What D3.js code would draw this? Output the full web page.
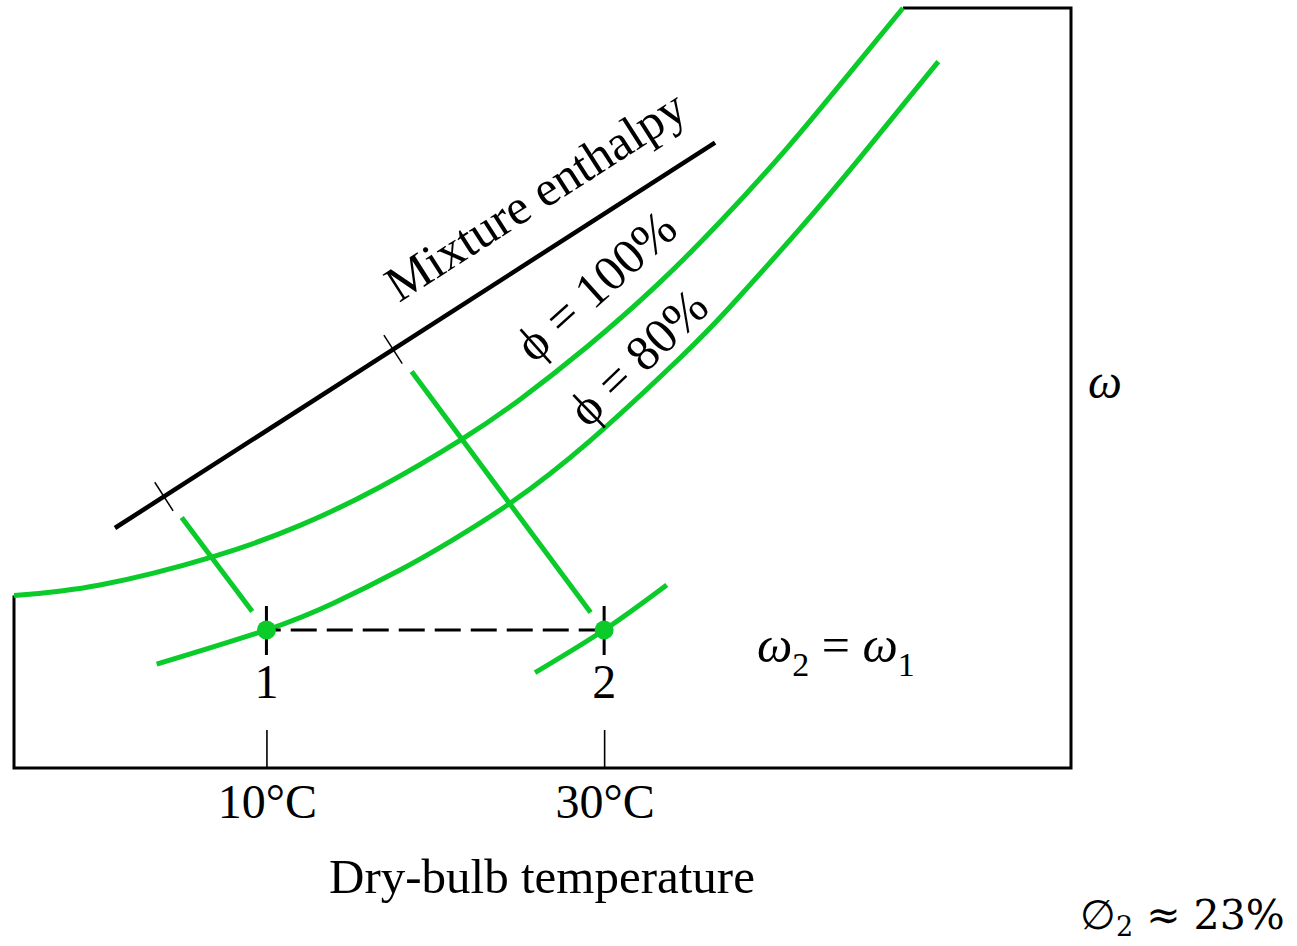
<!DOCTYPE html>
<html><head><meta charset="utf-8">
<script src="https://cdn.jsdelivr.net/npm/d3@7"></script>
<style>body{margin:0;background:#fff}svg{display:block}</style>
</head><body><svg id="c" width="1297" height="946"></svg>
<script>
// ---- data (temperature in °C, humidity ratio ω in arbitrary units) ----
const tempTicks = [10, 30];
const tickLabels = ["10°C", "30°C"];
const stateNames = ["1", "2"];
const stateT = [10, 30];
const stateW = [6.9, 6.9];
const sat100T = [-4.95, 0.14, 6.85, 11.99, 16.73, 21.56, 25.02, 28.97, 33.11, 36.86, 40.81, 44.56, 47.70];
const sat100W = [8.62, 9.15, 10.57, 12.13, 14.05, 16.43, 18.43, 21.05, 24.13, 27.30, 30.97, 34.77, 38.0];
const rh80T = [3.50, 10.0, 13.96, 17.91, 20.87, 24.43, 29.16, 34.49, 37.45, 41.60, 45.15, 49.79];
const rh80W = [5.19, 6.9, 8.24, 9.90, 11.32, 13.24, 16.36, 20.50, 23.05, 26.97, 30.51, 35.32];
const rh2T = [25.91, 30.0, 33.71];
const rh2W = [4.77, 6.9, 9.15];
const enthT = [1.03, 36.57];
const enthW = [12.0, 31.27];
const enthTickT = [3.93, 17.5];
const wetStartT = [4.98, 18.6], wetStartW = [12.52, 19.82];
const wetEndT = [9.16, 29.2], wetEndW = [7.82, 7.77];
const tDomain = [-4.95, 57.65];
const wDomain = [0, 38];

// ---- scales ----
const x = d3.scaleLinear().domain(tDomain).range([14, 1071]);
const y = d3.scaleLinear().domain(wDomain).range([768, 8]);
const svg = d3.select("#c");
const GREEN = "#0acb2a";
const serif = "'Liberation Serif','Times New Roman',serif";

const line = d3.line().x(d => x(d[0])).y(d => y(d[1]));
const curve = d3.line().x(d => x(d[0])).y(d => y(d[1])).curve(d3.curveNatural);
const zip = (a, b) => a.map((v, i) => [v, b[i]]);

// frame
const frame = [[sat100T[0], sat100W[0]], [tDomain[0], wDomain[0]], [tDomain[1], wDomain[0]],
  [tDomain[1], wDomain[1]], [sat100T[sat100T.length - 1], wDomain[1]]];
svg.append("path").attr("d", line(frame)).attr("fill", "none").attr("stroke", "#000")
  .attr("stroke-width", 3).attr("stroke-linejoin", "miter");

// bottom tick marks (axis)
const axis = d3.axisBottom(x).tickValues(tempTicks).tickSize(-38).tickFormat("");
const ag = svg.append("g").attr("transform", `translate(0,${y(0)})`).call(axis);
ag.select(".domain").remove();
ag.selectAll("line").attr("stroke", "#000").attr("stroke-width", 1.6);
svg.selectAll(".tl").data(tickLabels).join("text")
  .attr("x", (d, i) => x(tempTicks[i]) + 1).attr("y", 818)
  .attr("text-anchor", "middle").attr("font-family", serif).attr("font-size", 48).text(d => d);
svg.append("text").attr("x", 542).attr("y", 893).attr("text-anchor", "middle")
  .attr("font-family", serif).attr("font-size", 49).text("Dry-bulb temperature");

// relative-humidity curves
[zip(sat100T, sat100W), zip(rh80T, rh80W), zip(rh2T, rh2W)].forEach(pts => {
  svg.append("path").attr("d", curve(pts)).attr("fill", "none").attr("stroke", GREEN)
    .attr("stroke-width", 5).attr("stroke-linecap", "butt");
});

// enthalpy line
svg.append("path").attr("d", line(zip(enthT, enthW))).attr("fill", "none").attr("stroke", "#000").attr("stroke-width", 4.5);
const ex1 = x(enthT[0]), ey1 = y(enthW[0]), ex2 = x(enthT[1]), ey2 = y(enthW[1]);
const ang = Math.atan2(ey2 - ey1, ex2 - ex1);
const nx = -Math.sin(ang), ny = Math.cos(ang);
enthTickT.forEach(t => {
  const w = enthW[0] + (t - enthT[0]) * (enthW[1] - enthW[0]) / (enthT[1] - enthT[0]);
  const cx = x(t), cy = y(w);
  svg.append("line").attr("x1", cx - nx * 17).attr("y1", cy - ny * 17)
    .attr("x2", cx + nx * 17).attr("y2", cy + ny * 17).attr("stroke", "#000").attr("stroke-width", 1.5);
});
svg.append("text").attr("font-family", serif).attr("font-size", 50)
  .attr("transform", `translate(${x(17.85)},${y(23.25)}) rotate(${ang * 180 / Math.PI})`)
  .text("Mixture enthalpy");

// wet-bulb construction lines
wetStartT.forEach((t, i) => {
  svg.append("line").attr("x1", x(t)).attr("y1", y(wetStartW[i]))
    .attr("x2", x(wetEndT[i])).attr("y2", y(wetEndW[i])).attr("stroke", GREEN).attr("stroke-width", 5);
});

// φ labels
svg.append("text").attr("font-family", serif).attr("font-size", 50)
  .attr("transform", `translate(${x(25.85)},${y(20.2)}) rotate(-42)`).text("ϕ = 100%");
svg.append("text").attr("font-family", serif).attr("font-size", 50)
  .attr("transform", `translate(${x(29.05)},${y(16.95)}) rotate(-44)`).text("ϕ = 80%");

// dashed constant-ω line
svg.append("line").attr("x1", x(stateT[0])).attr("y1", y(stateW[0]))
  .attr("x2", x(stateT[1])).attr("y2", y(stateW[1])).attr("stroke", "#000").attr("stroke-width", 3)
  .attr("stroke-dasharray", "26,10").attr("stroke-dashoffset", 11.7);

// state markers
stateT.forEach((t, i) => {
  const cx = x(t), cy = y(stateW[i]);
  svg.append("line").attr("x1", cx).attr("x2", cx).attr("y1", cy - 24).attr("y2", cy + 25)
    .attr("stroke", "#000").attr("stroke-width", 3);
  svg.append("circle").attr("cx", cx).attr("cy", cy).attr("r", 9.5).attr("fill", GREEN);
  svg.append("text").attr("x", cx).attr("y", 698).attr("text-anchor", "middle")
    .attr("font-family", serif).attr("font-size", 48).text(stateNames[i]);
});

// ω labels
svg.append("text").attr("x", 1088).attr("y", 398).attr("font-family", serif).attr("font-style", "italic")
  .attr("font-size", 48).text("ω");
const t2 = svg.append("text").attr("x", 757).attr("y", 662).attr("font-family", serif).attr("font-size", 50);
t2.append("tspan").attr("font-style", "italic").text("ω");
t2.append("tspan").attr("font-size", 34).attr("dy", 14).text("2");
t2.append("tspan").attr("dy", -14).text(" = ");
t2.append("tspan").attr("font-style", "italic").text("ω");
t2.append("tspan").attr("font-size", 34).attr("dy", 14).text("1");

const t3 = svg.append("text").attr("x", 1080).attr("y", 929).attr("font-family", "'DejaVu Serif',serif").attr("font-size", 41);
t3.append("tspan").text("∅");
t3.append("tspan").attr("font-size", 27).attr("dy", 7).text("2");
t3.append("tspan").attr("dy", -7).text(" ≈ 23%");
</script></body></html>
